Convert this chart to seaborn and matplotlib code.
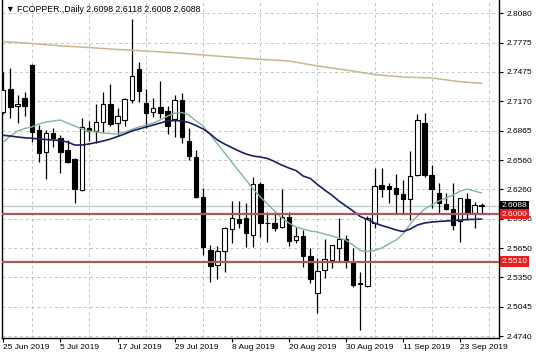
import numpy as np
import pandas as pd
import matplotlib
matplotlib.use("Agg")
import matplotlib.pyplot as plt
import seaborn as sns
from matplotlib.transforms import blended_transform_factory

# ---------------- data ----------------
bars = list(range(68))
open_ = [2.7059, 2.7297, 2.7121, 2.7204, 2.7545, 2.6873, 2.6645, 2.6841, 2.6790, 2.6666,
         2.6572, 2.6252, 2.6893, 2.6862, 2.6955, 2.7142, 2.6945, 2.6976, 2.7183, 2.7504,
         2.7152, 2.7059, 2.7111, 2.7069, 2.6986, 2.7183, 2.6759, 2.6593, 2.6179, 2.5631,
         2.5475, 2.5620, 2.5848, 2.5951, 2.5962, 2.5786, 2.6314, 2.5910, 2.5910, 2.5869,
         2.5972, 2.5734, 2.5776, 2.5569, 2.5186, 2.5424, 2.5527, 2.5651, 2.5745, 2.5506,
         2.5289, 2.5258, 2.5910, 2.6303, 2.6293, 2.6272, 2.6210, 2.6158, 2.6407, 2.6945,
         2.6407, 2.6221, 2.6107, 2.6055, 2.5931, 2.6158, 2.6013, 2.6098]
high = [2.7473, 2.7514, 2.7235, 2.7266, 2.7556, 2.6924, 2.6873, 2.6893, 2.6821, 2.6769,
        2.6582, 2.6997, 2.6966, 2.7142, 2.7266, 2.7349, 2.7100, 2.7204, 2.8021, 2.7576,
        2.7297, 2.7204, 2.7380, 2.7121, 2.7235, 2.7255, 2.6893, 2.6666, 2.6272, 2.5682,
        2.5672, 2.5869, 2.6138, 2.6138, 2.6117, 2.6386, 2.6334, 2.6024, 2.6024, 2.6262,
        2.6024, 2.5869, 2.5838, 2.5651, 2.5548, 2.5745, 2.5682, 2.5962, 2.5786, 2.5651,
        2.5403, 2.5982, 2.6479, 2.6479, 2.6324, 2.6417, 2.6355, 2.6655, 2.7038, 2.7048,
        2.6510, 2.6324, 2.6221, 2.6324, 2.6169, 2.6221, 2.6127, 2.6118]
low = [2.7038, 2.6997, 2.6945, 2.7017, 2.6748, 2.6541, 2.6365, 2.6697, 2.6427, 2.6531,
       2.6117, 2.6241, 2.6759, 2.6738, 2.6852, 2.6914, 2.6821, 2.6914, 2.7152, 2.7162,
       2.6893, 2.7007, 2.6997, 2.6831, 2.6800, 2.6738, 2.6562, 2.6169, 2.5579, 2.5299,
       2.5331, 2.5403, 2.5703, 2.5858, 2.5662, 2.5662, 2.5765, 2.5713, 2.5827, 2.5858,
       2.5672, 2.5703, 2.5455, 2.5289, 2.4979, 2.5341, 2.5444, 2.5506, 2.5444, 2.5248,
       2.4803, 2.5248, 2.5858, 2.6179, 2.6117, 2.6013, 2.6013, 2.5941, 2.6396, 2.6386,
       2.6065, 2.6013, 2.6045, 2.5838, 2.5713, 2.5941, 2.5858, 2.6008]
close = [2.7286, 2.7111, 2.7142, 2.7121, 2.6852, 2.6635, 2.6841, 2.6790, 2.6645, 2.6541,
         2.6262, 2.6904, 2.6862, 2.6955, 2.7142, 2.6935, 2.7017, 2.7193, 2.7431, 2.7276,
         2.7048, 2.7100, 2.7048, 2.6914, 2.7183, 2.6800, 2.6603, 2.6179, 2.5662, 2.5465,
         2.5620, 2.5858, 2.5962, 2.5910, 2.5807, 2.6314, 2.5910, 2.5905, 2.5858, 2.5972,
         2.5724, 2.5776, 2.5569, 2.5331, 2.5413, 2.5538, 2.5682, 2.5745, 2.5527, 2.5268,
         2.5279, 2.5962, 2.6293, 2.6262, 2.6262, 2.6210, 2.6158, 2.6396, 2.6976, 2.6407,
         2.6262, 2.6117, 2.6055, 2.5889, 2.6169, 2.6024, 2.6096, 2.6088]

ma_fast = [2.6748, 2.6810, 2.6862, 2.6888, 2.6904, 2.6935, 2.6955, 2.6966, 2.6976, 2.6945,
           2.6914, 2.6883, 2.6862, 2.6852, 2.6841, 2.6836, 2.6831, 2.6852, 2.6878, 2.6904,
           2.6924, 2.6945, 2.6976, 2.7017, 2.7048, 2.7054, 2.7028, 2.6966, 2.6914, 2.6821,
           2.6728, 2.6635, 2.6541, 2.6448, 2.6355, 2.6262, 2.6179, 2.6107, 2.6034, 2.5962,
           2.5910, 2.5869, 2.5848, 2.5827, 2.5817, 2.5796, 2.5776, 2.5755, 2.5734, 2.5682,
           2.5625, 2.5615, 2.5625, 2.5651, 2.5693, 2.5734, 2.5796, 2.5900, 2.5982, 2.6055,
           2.6096, 2.6138, 2.6169, 2.6200, 2.6241, 2.6262, 2.6241, 2.6221]
ma_mid = [2.6818, 2.6810, 2.6800, 2.6792, 2.6787, 2.6779, 2.6774, 2.6769, 2.6764, 2.6748,
          2.6717, 2.6717, 2.6728, 2.6743, 2.6759, 2.6779, 2.6805, 2.6831, 2.6862, 2.6883,
          2.6904, 2.6924, 2.6945, 2.6966, 2.6971, 2.6966, 2.6950, 2.6919, 2.6883, 2.6831,
          2.6769, 2.6727, 2.6691, 2.6655, 2.6624, 2.6603, 2.6593, 2.6578, 2.6546, 2.6510,
          2.6479, 2.6453, 2.6396, 2.6371, 2.6309, 2.6252, 2.6200, 2.6138, 2.6086, 2.6034,
          2.5977, 2.5946, 2.5910, 2.5884, 2.5863, 2.5838, 2.5822, 2.5848, 2.5889, 2.5910,
          2.5920, 2.5926, 2.5931, 2.5936, 2.5941, 2.5946, 2.5948, 2.5951]
ma_slow_bars = [0, 4, 8, 12, 16, 20, 24, 28, 32, 36, 40, 44, 48, 52, 56, 60, 64, 67]
ma_slow = [2.7788, 2.7768, 2.7744, 2.7726, 2.7706, 2.7690, 2.7672, 2.7649, 2.7626, 2.7604,
           2.7587, 2.7535, 2.7493, 2.7447, 2.7421, 2.7411, 2.7372, 2.7356]

date_bars = [0, 8, 16, 24, 32, 40, 48, 56, 64]
date_labels = ["25 Jun 2019", "5 Jul 2019", "17 Jul 2019", "29 Jul 2019", "8 Aug 2019",
               "20 Aug 2019", "30 Aug 2019", "11 Sep 2019", "23 Sep 2019"]
ytick_vals = [2.8080, 2.7775, 2.7475, 2.7170, 2.6865, 2.6560, 2.6260, 2.5955,
              2.5650, 2.5350, 2.5045, 2.4740]
ytick_labels = ["2.8080", "2.7775", "2.7475", "2.7170", "2.6865", "2.6560", "2.6260",
                "2.5955", "2.5650", "2.5350", "2.5045", "2.4740"]
levels = [2.6000, 2.5510]
bid = 2.6088
title = "\u25BC FCOPPER.,Daily 2.6098 2.6118 2.6008 2.6088"

# ---------------- style ----------------
sns.set_style("white")
plt.rcParams["font.family"] = ["Liberation Sans", "DejaVu Sans"]

W, H = 536, 357
fig = plt.figure(figsize=(W / 100, H / 100), dpi=100)
ax = fig.add_axes([2 / W, (H - 338) / H, 497 / W, 338 / H])

o = np.array(open_); c = np.array(close); hi = np.array(high); lo = np.array(low)
x = np.array(bars)

# wicks & bodies
ax.vlines(x, lo, hi, color="black", lw=0.9, zorder=2)
heights = np.maximum(np.abs(c - o), 0.0003)
bottoms = np.minimum(o, c)
fills = np.where(c >= o, "white", "black")
ax.bar(x, heights, bottom=bottoms, width=0.62, color=fills, edgecolor="black",
       linewidth=0.8, zorder=3)

# moving averages
ma_df = pd.DataFrame({"bar": bars, "fast": ma_fast, "mid": ma_mid})
slow_df = pd.DataFrame({"bar": ma_slow_bars, "slow": ma_slow})
sns.lineplot(data=slow_df, x="bar", y="slow", color="#c8b78f", lw=1.1, ax=ax, zorder=4)
sns.lineplot(data=ma_df, x="bar", y="fast", color="#80b49e", lw=1.0, ax=ax, zorder=4)
sns.lineplot(data=ma_df, x="bar", y="mid", color="#1c2160", lw=1.2, ax=ax, zorder=4)

# level lines
ax.axhline(bid, color="#b9c9cd", lw=0.9, zorder=1.5)
for lv in levels:
    ax.axhline(lv, color="#a65a5e", lw=1.6, zorder=5)

ax.set_xlim(-0.18, 69.43)
ax.set_ylim(2.4720, 2.8218)
ax.set_xlabel("")
ax.set_ylabel("")

# ticks
ax.yaxis.tick_right()
ax.set_yticks(ytick_vals)
ax.set_yticklabels(ytick_labels)
ax.tick_params(axis="y", which="major", direction="out", length=3, width=0.8, pad=2.5,
               labelsize=6, colors="black", right=True, left=False)
ax.set_xticks(date_bars)
ax.set_xticklabels(date_labels)
ax.set_xticks(np.arange(0, 69, 4), minor=True)
ax.tick_params(axis="x", which="major", direction="out", length=3, width=0.8, pad=1.5,
               labelsize=6, colors="black", bottom=True)
ax.tick_params(axis="x", which="minor", length=0)
for lbl in ax.get_xticklabels():
    lbl.set_ha("left")

# grid
ax.set_axisbelow(True)
ax.grid(False)
ax.grid(True, which="minor", axis="x", color="#c4c4c4", lw=0.7, ls=(0, (3, 3)))
ax.grid(True, which="major", axis="y", color="#c4c4c4", lw=0.7, ls=(0, (3, 3)))

for s in ["left", "right", "bottom"]:
    ax.spines[s].set_visible(True)
    ax.spines[s].set_color("black")
    ax.spines[s].set_linewidth(1.0)
ax.spines["top"].set_visible(False)

# price labels on right axis
trans = blended_transform_factory(ax.transAxes, ax.transData)
ax.text(1.005, bid, "2.6088", transform=trans, ha="left", va="center", fontsize=6,
        color="white", clip_on=False, zorder=6,
        bbox=dict(boxstyle="square,pad=0.2", fc="black", ec="none"))
for lv, lab in zip(levels, ["2.6000", "2.5510"]):
    ax.text(1.005, lv, lab, transform=trans, ha="left", va="center", fontsize=6,
            color="white", clip_on=False, zorder=7,
            bbox=dict(boxstyle="square,pad=0.2", fc="#e3221f", ec="none"))

fig.text(6 / W, 1 - 10 / H, title, fontsize=6.3, color="black", ha="left", va="center")

fig.savefig("out.png", dpi=100)
